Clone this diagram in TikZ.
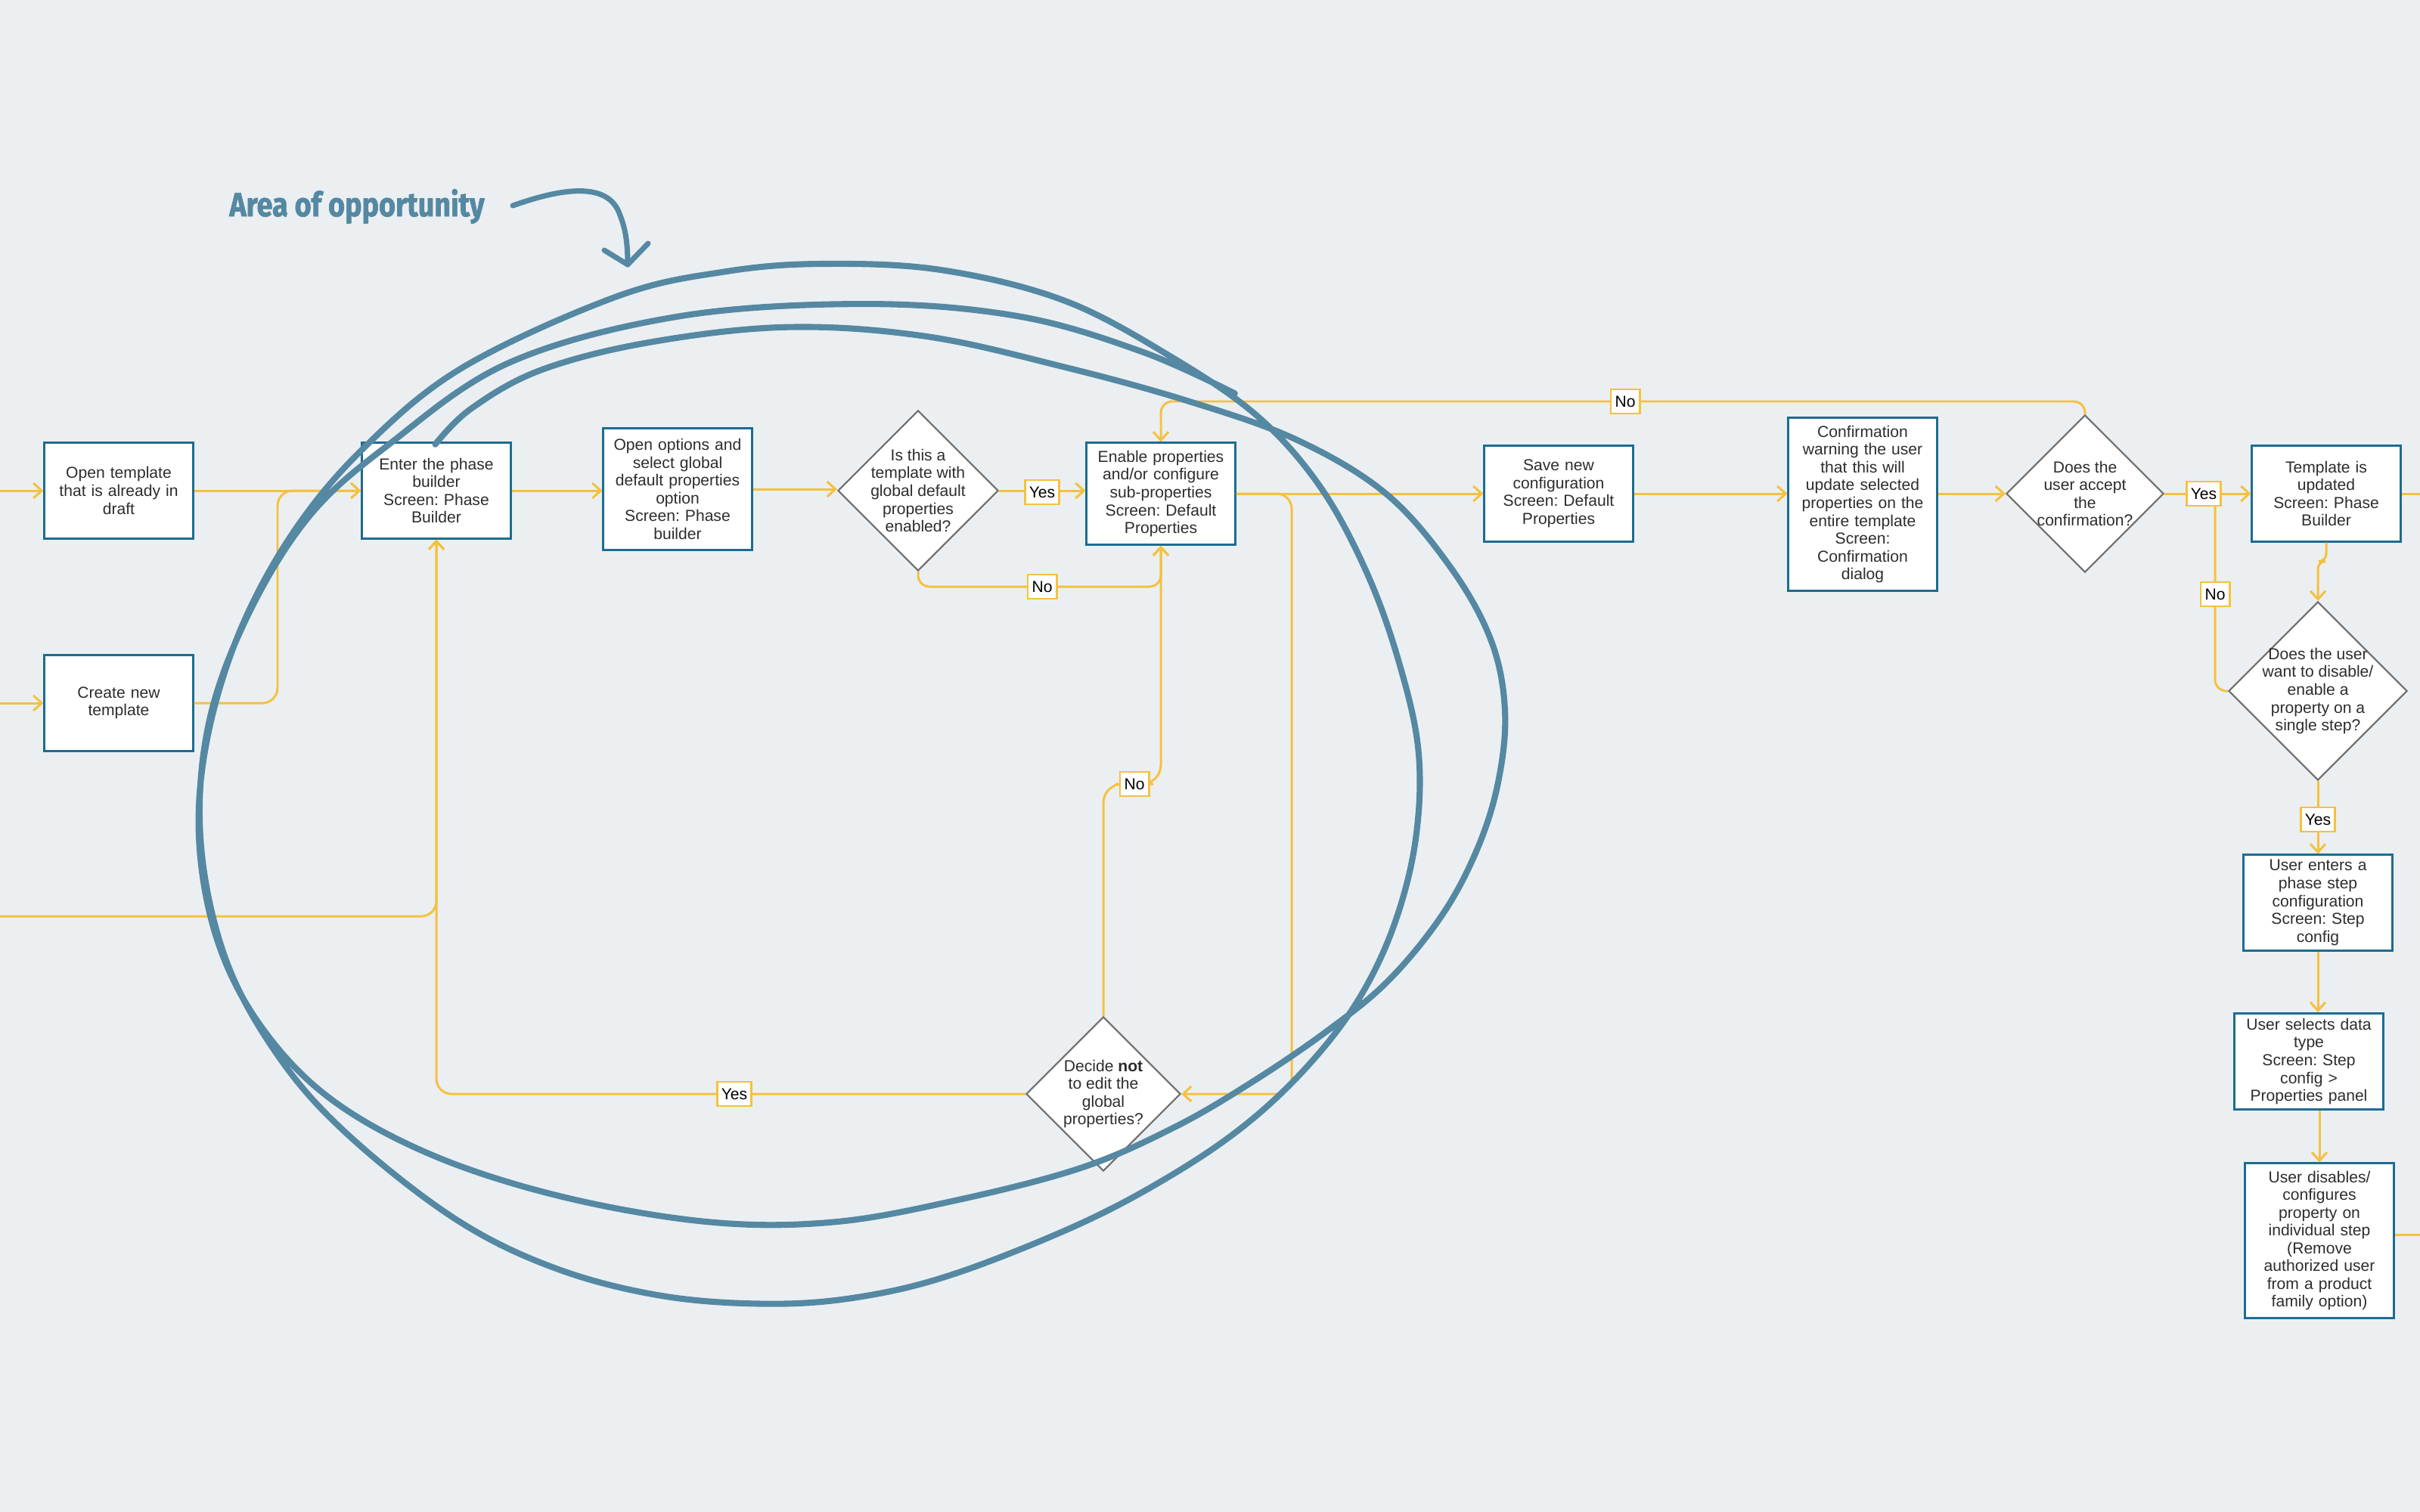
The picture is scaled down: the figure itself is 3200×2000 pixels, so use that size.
\documentclass[tikz,border=0pt]{standalone}
\usepackage{fontspec}
\usepackage{graphicx}
\setmainfont{Liberation Sans}
\newfontfamily\titlefont[FakeStretch=0.85, FakeBold=1.6]{Fira Sans}
\usetikzlibrary{shapes.geometric, arrows.meta, calc}
\definecolor{bg}{RGB}{235,239,242}
\definecolor{boxblue}{RGB}{28,108,145}
\definecolor{conny}{RGB}{245,193,62}
\definecolor{scrib}{RGB}{85,136,162}
\definecolor{dgray}{RGB}{110,110,110}
\definecolor{txt}{RGB}{45,45,45}
\begin{document}
\frenchspacing
\begin{tikzpicture}[x=0.01cm, y=-0.01cm,
  txtfont/.style={font=\fontsize{6}{6.7}\selectfont\frenchspacing, text=txt},
  box/.style={draw=boxblue, line width=0.85pt, fill=white, minimum width=1.96cm,
    text width=1.9cm, align=center, inner sep=0pt, txtfont},
  dia/.style={shape=diamond, draw=dgray, line width=0.6pt, fill=white, aspect=1, inner sep=0pt},
  dtext/.style={align=center, txtfont, inner sep=0pt},
  lbl/.style={draw=conny, line width=0.8pt, fill=white, inner xsep=1.6pt, inner ysep=0pt,
    minimum height=0.32cm, font=\fontsize{6}{6.7}\selectfont, text=black},
  conn/.style={draw=conny, line width=0.85pt, -{Straight Barb[length=1.1mm,width=2mm]}},
  plain/.style={draw=conny, line width=0.85pt},
  rc/.style={rounded corners=0.2cm},
  scribble/.style={draw=scrib, line width=2.3pt, line cap=round, line join=round}
]
\fill[bg] (0,0) rectangle (3200,2000);
\useasboundingbox (0,0) rectangle (3200,2000);

% ---------- nodes ----------
\node[box, minimum height=1.26cm] (open) at (157,649) {Open template\\that is already in\\draft};
\node[box, minimum height=1.26cm] (create) at (157,930) {Create new\\template};
\node[box, minimum height=1.26cm] (enter) at (577,649) {Enter the phase\\builder\\Screen: Phase\\Builder};
\node[box, minimum height=1.60cm] (options) at (896,647) {Open options and\\select global\\default properties\\option\\Screen: Phase\\builder};
\node[dia, minimum width=2.12cm, minimum height=2.12cm,
  label={[dtext]center:{Is this a\\template with\\global default\\properties\\enabled?}}] (d1) at (1214,649) {};
\node[box, minimum height=1.34cm] (enable) at (1535,653) {Enable properties\\and/or configure\\sub-properties\\Screen: Default\\Properties};
\node[box, minimum height=1.26cm] (save) at (2061,653) {Save new\\configuration\\Screen: Default\\Properties};
\node[box, minimum height=2.29cm] (confirm) at (2463,667) {Confirmation\\warning the user\\that this will\\update selected\\properties on the\\entire template\\Screen:\\Confirmation\\dialog};
\node[dia, minimum width=2.08cm, minimum height=2.08cm,
  label={[dtext]center:{Does the\\user accept\\the\\confirmation?}}] (d2) at (2757,653) {};
\node[box, minimum height=1.26cm] (updated) at (3076,653) {Template is\\updated\\Screen: Phase\\Builder};
\node[dia, minimum width=2.36cm, minimum height=2.36cm,
  label={[dtext]center:{Does the user\\want to disable/\\enable a\\property on a\\single step?}}] (d3) at (3065,914) {};
\node[box, minimum height=1.26cm] (stepcfg) at (3065,1194) {User enters a\\phase step\\configuration\\Screen: Step\\config};
\node[box, minimum height=1.27cm] (dtype) at (3053,1404) {User selects data\\type\\Screen: Step\\config >\\Properties panel};
\node[box, minimum height=2.04cm] (disables) at (3067,1641) {User disables/\\configures\\property on\\individual step\\(Remove\\authorized user\\from a product\\family option)};
\node[dia, minimum width=2.04cm, minimum height=2.04cm,
  label={[dtext]center:{Decide \textbf{not}\\to edit the\\global\\properties?}}] (d4) at (1459,1447) {};

% ---------- coordinates ----------
\coordinate (inA) at (0,649);
\coordinate (inB) at (0,930);
\coordinate (inC) at (0,1212);
\coordinate (outA) at (3200,653);
\coordinate (outB) at (3200,1633);
\coordinate (kR) at (1708,1447);
\coordinate (topL) at (1535,531);
\coordinate (splitY) at (2929,653);
\coordinate (pYes1) at (1378,651);
\coordinate (pNo1) at (1378,776);
\coordinate (pNo2) at (1500,1037);
\coordinate (pYes2) at (971,1447);
\coordinate (pNo3) at (2149,531);
\coordinate (pYes3) at (2914,653);
\coordinate (pNo4) at (2929,786);
\coordinate (pYes4) at (3065,1084);

% ---------- connectors ----------
\draw[conn] (inA) -- (open.west);
\draw[conn] (inB) -- (create.west);
\draw[conn] (open.east) -- (enter.west);
\draw[conn, rc] (create.east) -| ($(open.east)!0.5!(enter.west)$) -- (enter.west);
\draw[conn, rc] (inC) -| (enter.south);
\draw[conn, rc] (d4.west) -| (enter.south);
\draw[conn] (enter.east) -- (enter.east -| options.west);
\draw[conn] (options.east) -- (options.east -| d1.west);
\draw[conn] (d1.east) -- (d1.east -| enable.west);
\draw[conn, rounded corners=0.15cm] (d1.south) |- (pNo1) -| (enable.south);
\draw[conn] (enable.east) -- (enable.east -| save.west);
\draw[conn, rc] (enable.east) -| (kR) -- (d4.east);
\draw[conn, rounded corners=0.25cm] (d4.north) |- (pNo2) -| (enable.south);
\draw[conn] (save.east) -- (save.east -| confirm.west);
\draw[conn] (confirm.east |- d2.west) -- (d2.west);
\draw[conn, rounded corners=0.15cm] (d2.north) |- (topL) -- (enable.north);
\draw[conn] (d2.east) -- (d2.east -| updated.west);
\draw[plain, rounded corners=0.15cm] (splitY) |- (d3.west);
\draw[conn, rounded corners=0.1cm] (updated.south) -- ++(0,25) -| (d3.north);
\draw[conn] (d3.south) -- (stepcfg.north);
\draw[conn] (stepcfg.south) -- (stepcfg.south |- dtype.north);
\draw[conn] (dtype.south -| disables.north) -- (disables.north);
\draw[plain] (disables.east |- outB) -- (outB);
\draw[plain] (updated.east) -- (outA);

% ---------- labels ----------
\node[lbl] (lYes1) at (pYes1) {Yes};
\node[lbl] (lNo1) at (pNo1) {No};
\node[lbl] (lNo2) at (pNo2) {No};
\node[lbl] (lYes2) at (pYes2) {Yes};
\node[lbl] (lNo3) at (pNo3) {No};
\node[lbl] (lYes3) at (pYes3) {Yes};
\node[lbl] (lNo4) at (pNo4) {No};
\node[lbl] (lYes4) at (pYes4) {Yes};

% ---------- annotation ----------
\node[text=scrib, inner sep=0pt] (title) at (472,273) {\resizebox{3.37cm}{!}{\titlefont\bfseries Area of opportunity}};
\coordinate (hA) at (678,272);
\coordinate (hB) at (830,350);
\coordinate (hL) at (799,331);
\coordinate (hR) at (857,322);
\draw[scrib, line width=2pt, line cap=round, line join=round]
  (hA) .. controls (740,250) and (805,238) .. (820,285) .. controls (828,305) and (830,325) .. (hB);
\draw[scrib, line width=2pt, line cap=round, line join=round] (hL) -- (hB) -- (hR);

\begin{scope}[scale=2.041]
\draw[scribble] plot[smooth, tension=0.6] coordinates {
(282,288) (305,265) (350,240) (420,222) (510,212) (600,218) (690,238) (770,260) (840,285) (898,320) (940,368) (966,415) (975,460) (971,505) (958,548) (935,592) (900,635) (860,668) (810,702) (760,731) (700,757) (619,778) (540,792) (460,792) (366,776) (281,749) (214,712) (169,665) (141,610) (129,545) (134,480) (155,410) (190,345) (236,290) (300,238) (400,192) (470,176) (533,171) (610,175) (690,195) (760,232) (815,270) (855,315) (885,370) (906,428) (919,487) (917,545) (903,600) (880,648) (848,690) (808,728) (760,761) (700,793) (620,825) (560,840) (501,845) (430,840) (360,822) (295,790) (225,735) (180,684) (146,621) (130,545) (135,470) (160,400) (200,335) (252,288) (330,235) (440,205) (561,197) (660,205) (740,228) (800,255)};
\end{scope}
\end{tikzpicture}
\end{document}
